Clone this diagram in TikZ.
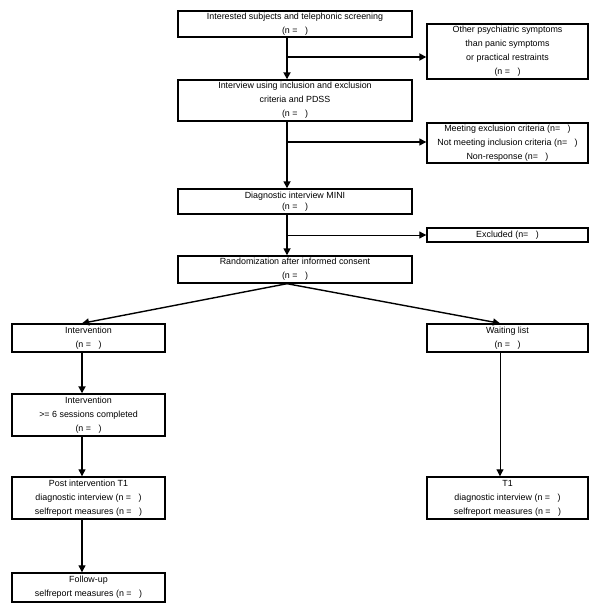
\documentclass[tikz,border=0pt]{standalone}
\usepackage{fontspec}
\setmainfont{Liberation Sans}
\usetikzlibrary{arrows.meta}

\tikzset{
  box/.style={draw, line width=1.4pt, inner sep=0pt, align=center,
    font=\fontsize{8.9}{14}\selectfont},
  wide/.style={box, minimum width=234, minimum height=#1},
  side/.style={box, minimum width=161, minimum height=#1},
  left/.style={box, minimum width=153, minimum height=#1},
  flow/.style={-{Triangle[length=7pt,width=7pt]}, line width=#1},
  flow/.default=1.2pt
}

\begin{document}
\begin{tikzpicture}[x=1pt,y=-1pt]
\useasboundingbox (0,0) rectangle (600,612);

% centre column
\node[wide=26] (a) at (295,24) {Interested subjects and telephonic screening\\(n =\ \ \ )};
\node[wide=41] (b) at (295,100.5) {Interview using inclusion and exclusion\\criteria and PDSS\\(n =\ \ \ )};
\node[wide=25, font=\fontsize{8.9}{11}\selectfont] (c) at (295,201.5) {Diagnostic interview MINI\\(n =\ \ \ )};
\node[wide=27] (d) at (295,269.5) {Randomization after informed consent\\(n =\ \ \ )};

% right side
\node[side=55] (a1) at (507.5,51.5) {Other psychiatric symptoms\\than panic symptoms\\or practical restraints\\(n =\ \ \ )};
\node[side=40] (b1) at (507.5,143) {Meeting exclusion criteria (n=\ \ \ )\\Not meeting inclusion criteria (n=\ \ \ )\\Non-response (n=\ \ \ )};
\node[side=14] (c1) at (507.5,235) {Excluded (n=\ \ \ )};

% the two arms
\node[left=28] (e) at (88.5,338) {Intervention\\(n =\ \ \ )};
\node[left=42] (f) at (88.5,415) {Intervention\\>= 6 sessions completed\\(n =\ \ \ )};
\node[left=42] (g) at (88.5,498) {Post intervention T1\\diagnostic interview (n =\ \ \ )\\selfreport measures (n =\ \ \ )};
\node[left=29] (h) at (88.5,587.5) {Follow-up\\selfreport measures (n =\ \ \ )};
\node[side=28] (k) at (507.5,338) {Waiting list\\(n =\ \ \ )};
\node[side=42] (m) at (507.5,498) {T1\\diagnostic interview (n =\ \ \ )\\selfreport measures (n =\ \ \ )};

\coordinate (sp) at (287,0); % spine
\coordinate (lc) at (82,0); % left arm
\coordinate (rc) at (500,0); % right arm
\coordinate (s1) at (287,57);
\coordinate (s2) at (287,142);
\coordinate (s3) at (287,235);

\draw[flow=1.8pt] (a.south -| sp) -- (b.north -| sp);
\draw[flow=1.8pt] (s1) -- (a1.west |- s1);
\draw[flow=1.6pt] (b.south -| sp) -- (c.north -| sp);
\draw[flow=1.4pt] (s2) -- (b1.west |- s2);
\draw[flow=1.6pt] (c.south -| sp) -- (d.north -| sp);
\draw[flow=1pt] (s3) -- (c1.west |- s3);

\draw[flow=1.4pt] (d.south -| sp) -- (e.north -| lc);
\draw[flow=1.4pt] (d.south -| sp) -- (k.north -| rc);
\draw[flow=1.8pt] (e.south -| lc) -- (f.north -| lc);
\draw[flow] (f.south -| lc) -- (g.north -| lc);
\draw[flow] (g.south -| lc) -- (h.north -| lc);
\draw[flow=1pt] (k.south -| rc) -- (m.north -| rc);

\end{tikzpicture}
\end{document}
